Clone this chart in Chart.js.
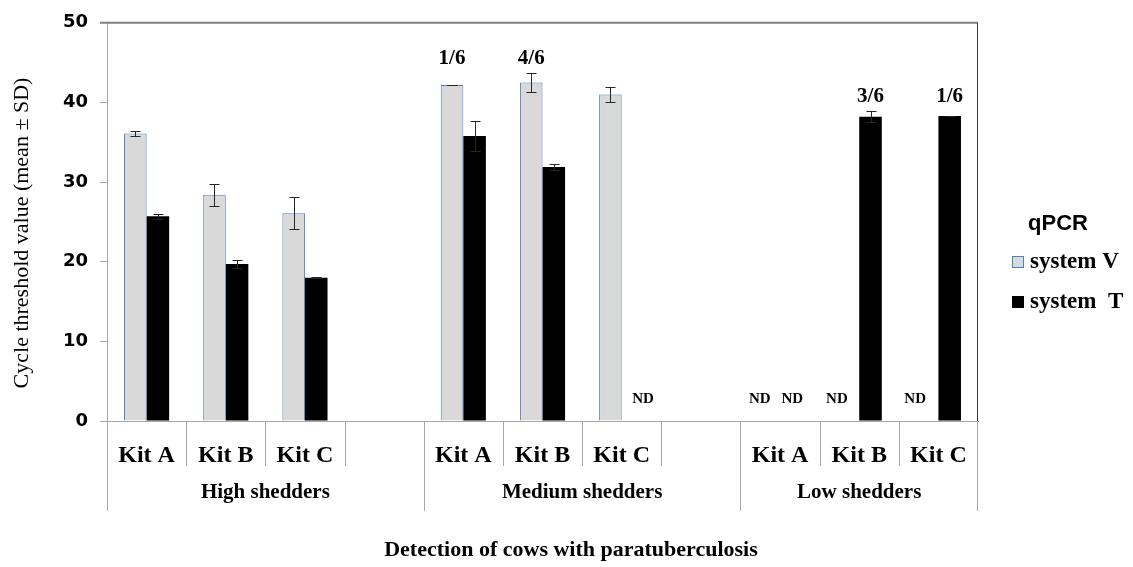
<!DOCTYPE html>
<html>
<head>
<meta charset="utf-8">
<script src="https://cdn.jsdelivr.net/npm/chart.js@4.4.1/dist/chart.umd.min.js"></script>
<style>
  html, body { margin: 0; padding: 0; background: #ffffff; }
  canvas { display: block; }
</style>
</head>
<body>
<canvas id="chart" width="1133" height="567"></canvas>
<script>
// Categories: three shedder groups, kits within each (blank slot = spacer)
const kitLabels = ['Kit A', 'Kit B', 'Kit C', '', 'Kit A', 'Kit B', 'Kit C', '', 'Kit A', 'Kit B', 'Kit C'];
const groupNames = ['High shedders', 'Medium shedders', 'Low shedders'];
const groupSizes = [4, 4, 3];

// Series: mean Ct and SD per kit (null = not detected)
const seriesNames = ['system V', 'system  T'];
const systemV = [36.1, 28.4, 26.1, null, 42.2, 42.5, 41.0, null, null, null, null];
const systemVsd = [0.3, 1.4, 2.0, null, 0, 1.15, 0.9, null, null, null, null];
const systemT = [25.7, 19.7, 18.0, null, 35.8, 31.9, null, null, null, 38.2, 38.3];
const systemTsd = [0.35, 0.5, 0.1, null, 1.9, 0.35, null, null, null, 0.7, 0.05];

// Positive animals out of six, shown over the bars
const systemVpositive = [null, null, null, null, '1/6', '4/6', null, null, null, null, null];
const systemTpositive = [null, null, null, null, null, null, null, null, null, '3/6', '1/6'];

// Value axis ticks
const yTicks = [0, 10, 20, 30, 40, 50];

const SERIF = '"Liberation Serif", "Times New Roman", serif';
const SANS = '"DejaVu Sans", Verdana, sans-serif';
const AXIS_GREY = '#a6a6a6';

const sdBySeries = [systemVsd, systemTsd];
const positiveBySeries = [systemVpositive, systemTpositive];

// Small horizontal nudges for the "ND" marks (dataset index -> category index -> px)
const ndNudge = { 0: { 8: -9, 9: -11, 10: -12 }, 1: { 6: 10, 8: 1 } };

const decorations = {
  id: 'decorations',
  afterDatasetsDraw(chart) {
    const { ctx, scales: { x, y } } = chart;
    ctx.save();
    // error bars
    ctx.strokeStyle = '#262626';
    ctx.lineWidth = 1;
    chart.data.datasets.forEach((ds, di) => {
      const meta = chart.getDatasetMeta(di);
      ds.data.forEach((v, i) => {
        const sd = sdBySeries[di][i];
        if (v == null || sd == null) return;
        const cx = Math.round(meta.data[i].x) + 0.5;
        const yt = Math.round(y.getPixelForValue(v + sd)) + 0.5;
        const yb = Math.round(y.getPixelForValue(v - sd)) + 0.5;
        ctx.beginPath();
        ctx.moveTo(cx, yt); ctx.lineTo(cx, yb);
        ctx.moveTo(cx - 5, yt); ctx.lineTo(cx + 5, yt);
        ctx.moveTo(cx - 5, yb); ctx.lineTo(cx + 5, yb);
        ctx.stroke();
      });
    });

    // "ND" marks for kits without detection
    ctx.fillStyle = '#000';
    ctx.font = 'bold 15px ' + SERIF;
    ctx.textAlign = 'center';
    ctx.textBaseline = 'middle';
    chart.data.datasets.forEach((ds, di) => {
      const meta = chart.getDatasetMeta(di);
      ds.data.forEach((v, i) => {
        if (v != null || kitLabels[i] === '') return;
        const nudge = (ndNudge[di] && ndNudge[di][i]) || 0;
        ctx.fillText('ND', meta.data[i].x + nudge, y.getPixelForValue(0) - 22);
      });
    });

    // positive-animal fractions, set at a common height within each group
    ctx.font = 'bold 21px ' + SERIF;
    let start = 0;
    groupSizes.forEach(size => {
      let topPx = Infinity;
      for (let i = start; i < start + size; i++) {
        chart.data.datasets.forEach((ds, di) => {
          const v = ds.data[i];
          if (v == null) return;
          topPx = Math.min(topPx, y.getPixelForValue(v + (sdBySeries[di][i] || 0)));
        });
      }
      chart.data.datasets.forEach((ds, di) => {
        const meta = chart.getDatasetMeta(di);
        for (let i = start; i < start + size; i++) {
          const lab = positiveBySeries[di][i];
          if (lab) ctx.fillText(lab, meta.data[i].x, topPx - 15);
        }
      });
      start += size;
    });
    ctx.restore();
  },
  afterDraw(chart) {
    const { ctx, chartArea: ca, scales: { x } } = chart;
    ctx.save();

    // plot frame, top and right edges
    ctx.lineWidth = 2;
    ctx.strokeStyle = '#808080';
    ctx.beginPath();
    ctx.moveTo(ca.left - 7, ca.top); ctx.lineTo(ca.right, ca.top);
    ctx.stroke();
    ctx.lineWidth = 1;
    ctx.strokeStyle = '#333333';
    ctx.beginPath();
    ctx.moveTo(ca.right - 0.5, ca.top); ctx.lineTo(ca.right - 0.5, ca.bottom);
    ctx.stroke();

    // category and group separators below the axis
    const n = kitLabels.length;
    const edge = k => (k === 0 ? ca.left : k === n ? ca.right
      : (x.getPixelForValue(k - 1) + x.getPixelForValue(k)) / 2);
    const groupEdges = [0];
    groupSizes.forEach(s => groupEdges.push(groupEdges[groupEdges.length - 1] + s));
    ctx.strokeStyle = AXIS_GREY;
    for (let k = 0; k <= n; k++) {
      const isGroup = groupEdges.includes(k);
      const px = Math.round(edge(k)) + (k === n ? -0.5 : 0.5);
      ctx.beginPath();
      ctx.moveTo(px, ca.bottom);
      ctx.lineTo(px, ca.bottom + (isGroup ? 90 : 45));
      ctx.stroke();
    }

    // group names
    ctx.fillStyle = '#000';
    ctx.font = 'bold 21px ' + SERIF;
    ctx.textAlign = 'center';
    ctx.textBaseline = 'middle';
    groupNames.forEach((name, g) => {
      const cx = (edge(groupEdges[g]) + edge(groupEdges[g + 1])) / 2;
      ctx.fillText(name, cx, ca.bottom + 72);
    });

    // x-axis title
    ctx.font = 'bold 22px ' + SERIF;
    ctx.fillText('Detection of cows with paratuberculosis', 571, 550);

    // y-axis title
    ctx.save();
    ctx.translate(22, 233);
    ctx.rotate(-Math.PI / 2);
    ctx.font = '22px ' + SERIF;
    ctx.fillText('Cycle threshold value (mean \u00b1 SD)', 0, 0);
    ctx.restore();

    // legend
    ctx.font = 'bold 22px "Liberation Sans", Arial, sans-serif';
    ctx.fillText('qPCR', 1058, 224);
    ctx.textAlign = 'left';
    ctx.font = 'bold 23px ' + SERIF;
    chart.data.datasets.forEach((ds, di) => {
      const cy = 262 + di * 40;
      ctx.fillStyle = ds.backgroundColor;
      ctx.fillRect(1012, cy - 6, 12, 12);
      if (di === 0) {
        ctx.strokeStyle = ds.borderColor;
        ctx.strokeRect(1012.5, cy - 5.5, 11, 11);
      }
      ctx.fillStyle = '#000';
      ctx.fillText(seriesNames[di], 1030, cy);
    });
    ctx.restore();
  }
};

new Chart(document.getElementById('chart'), {
  type: 'bar',
  data: {
    labels: kitLabels,
    datasets: [
      {
        label: seriesNames[0],
        data: systemV,
        backgroundColor: '#d9d9d9',
        borderColor: '#4f81bd',
        borderWidth: 1
      },
      {
        label: seriesNames[1],
        data: systemT,
        backgroundColor: '#000000',
        borderColor: '#000000',
        borderWidth: 0
      }
    ]
  },
  options: {
    responsive: false,
    animation: false,
    devicePixelRatio: 1,
    layout: { padding: { left: 0, right: 155, top: 17, bottom: 0 } },
    datasets: { bar: { categoryPercentage: 0.57, barPercentage: 1.0 } },
    plugins: {
      legend: { display: false },
      tooltip: { enabled: false }
    },
    scales: {
      x: {
        grid: { display: false },
        border: { display: true, color: AXIS_GREY, width: 1 },
        ticks: {
          color: '#000',
          font: { family: SERIF, size: 24, weight: 'bold', lineHeight: 1.2 },
          padding: 12,
          maxRotation: 0,
          autoSkip: false
        },
        afterFit(scale) { scale.height = 146; }
      },
      y: {
        min: 0,
        max: 50,
        afterBuildTicks(scale) { scale.ticks = yTicks.map(v => ({ value: v })); },
        grid: { display: true, drawOnChartArea: false, drawTicks: true, tickLength: 7, color: AXIS_GREY },
        border: { display: true, color: AXIS_GREY, width: 1 },
        ticks: {
          color: '#000',
          font: { family: SANS, size: 18, weight: 'bold' },
          padding: 12
        },
        afterFit(scale) { scale.width = 107; }
      }
    }
  },
  plugins: [decorations]
});
</script>
</body>
</html>
